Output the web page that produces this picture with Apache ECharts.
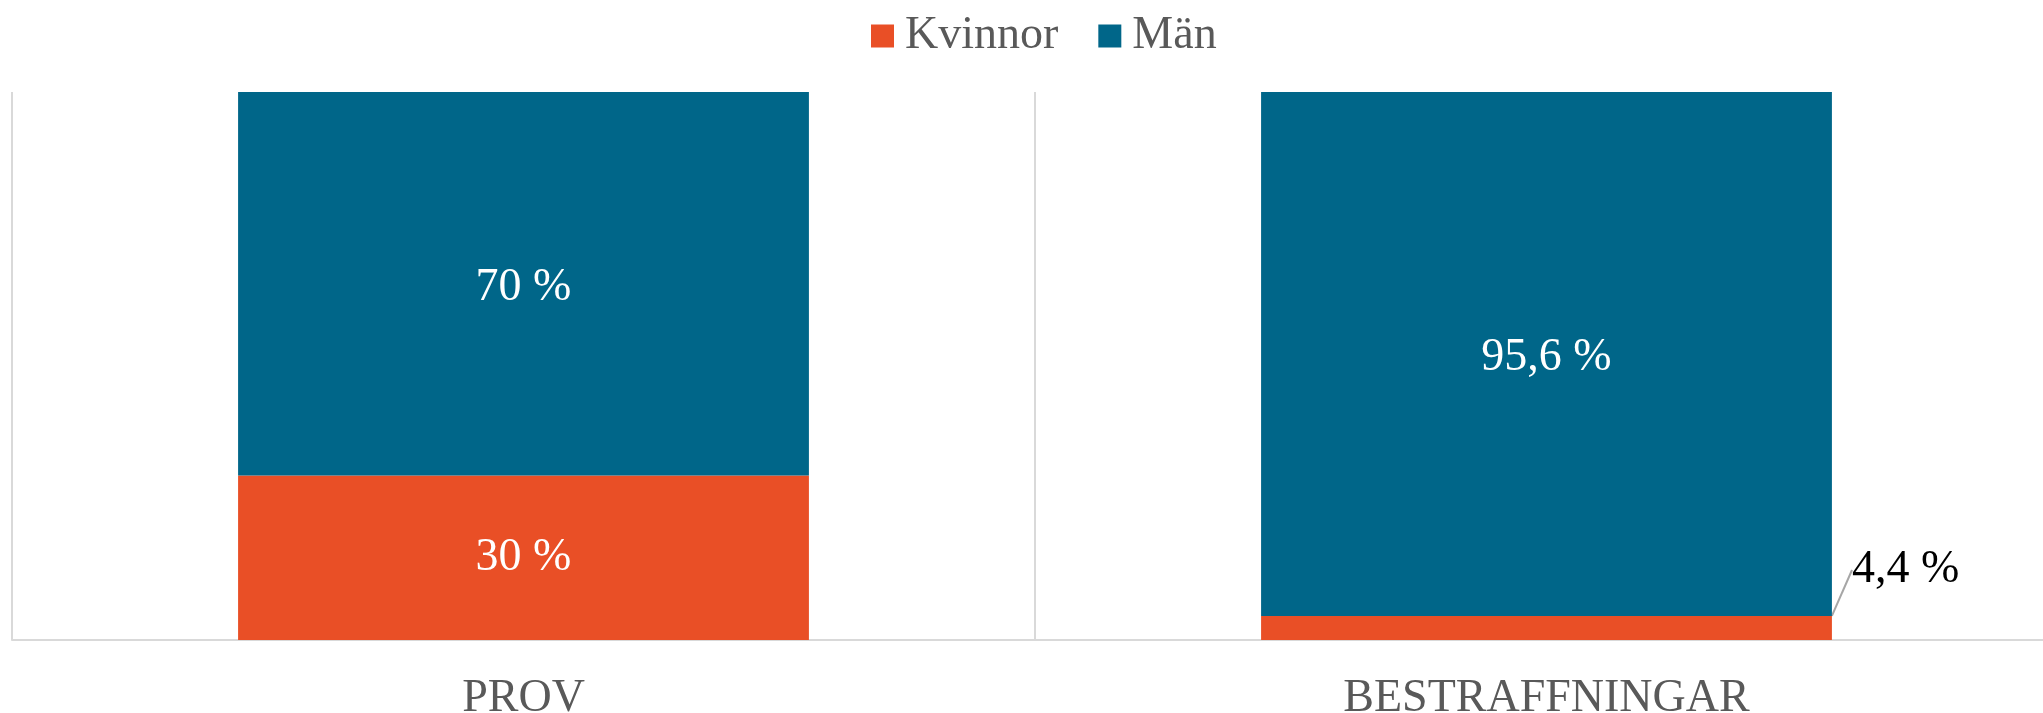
<!DOCTYPE html>
<html>
<head>
<meta charset="utf-8">
<script src="https://cdn.jsdelivr.net/npm/echarts@6/dist/echarts.min.js"></script>
<style>
html, body { margin: 0; padding: 0; background: #fff; overflow: hidden; }
#chart { width: 2043px; height: 713px; }
</style>
</head>
<body>
<div id="chart"></div>
<script>
// data
var categories = ['PROV', 'BESTRAFFNINGAR'];
var kvinnor = [30, 4.4];
var man = [70, 95.6];

var FONT = '"Liberation Serif", "Times New Roman", serif';

function fmt(v) {
    return String(v).replace('.', ',') + ' %';
}

var chart = echarts.init(document.getElementById('chart'));
var option = {
    animation: false,
    legend: {
        top: 8,
        left: 866,
        itemWidth: 23,
        itemHeight: 23,
        itemGap: 40,
        icon: 'rect',
        textStyle: { fontFamily: FONT, fontSize: 46, color: '#595959', padding: [0, 0, 0, 6] },
        data: ['Kvinnor', 'Män']
    },
    grid: {
        left: 12,
        width: 2046,
        top: 92,
        bottom: 73,
        outerBoundsMode: 'none'
    },
    xAxis: {
        type: 'category',
        data: categories,
        axisLine: { lineStyle: { color: '#d9d9d9', width: 2 } },
        axisTick: { show: false },
        splitLine: { show: true, lineStyle: { color: '#d9d9d9', width: 2 } },
        axisLabel: { fontFamily: FONT, fontSize: 46, color: '#595959', margin: 36 }
    },
    yAxis: {
        type: 'value',
        min: 0,
        max: 100,
        show: false
    },
    series: [{
        name: 'Kvinnor',
        type: 'bar',
        stack: 'total',
        barWidth: '55.8%',
        itemStyle: { color: '#e94f26' },
        label: {
            show: true,
            position: 'inside',
            fontFamily: FONT,
            fontSize: 46,
            color: '#fff',
            offset: [0, 4],
            formatter: function (p) { return fmt(p.value); }
        },
        labelLine: { show: true, lineStyle: { color: '#a6a6a6', width: 2 } },
        labelLayout: function (p) {
            if (p.dataIndex === 1) {
                return { x: 1852, y: 570, align: 'left', verticalAlign: 'middle' };
            }
        },
        data: kvinnor.map(function (v, i) {
            if (i === 1) {
                return { value: v, label: { color: '#000' } };
            }
            return v;
        })
    }, {
        name: 'Män',
        type: 'bar',
        stack: 'total',
        barWidth: '55.8%',
        itemStyle: { color: '#006689' },
        label: {
            show: true,
            position: 'inside',
            fontFamily: FONT,
            fontSize: 46,
            color: '#fff',
            offset: [0, 4],
            formatter: function (p) { return fmt(p.value); }
        },
        data: man
    }]
};
chart.setOption(option);
</script>
</body>
</html>
